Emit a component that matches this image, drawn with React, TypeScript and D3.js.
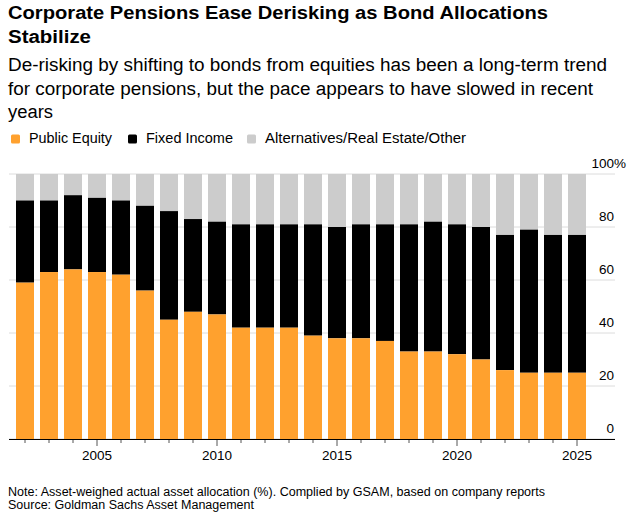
import { useMemo } from "react";
import * as d3 from "d3";

// Allocation per year, in % of total assets
const years = [2002, 2003, 2004, 2005, 2006, 2007, 2008, 2009, 2010, 2011, 2012, 2013,
    2014, 2015, 2016, 2017, 2018, 2019, 2020, 2021, 2022, 2023, 2024, 2025];
const publicEquity = [59, 63, 64, 63, 62, 56, 45, 48, 47, 42, 42, 42,
    39, 38, 38, 37, 33, 33, 32, 30, 26, 25, 25, 25];
const fixedIncome = [31, 27, 28, 28, 28, 32, 41, 35, 35, 39, 39, 39,
    42, 42, 43, 44, 48, 49, 49, 50, 51, 54, 52, 52];
const yTicks = [0, 20, 40, 60, 80, 100];
const xLabels = [2005, 2010, 2015, 2020, 2025];

const legend = [
    { label: "Public Equity", color: "#ffa12e", x: 11, w: 83 },
    { label: "Fixed Income", color: "#000000", x: 128, w: 87 },
    { label: "Alternatives/Real Estate/Other", color: "#cccccc", x: 247, w: 201 },
];

const FONT = "'Liberation Sans', Arial, Helvetica, sans-serif";
const FIT = "spacingAndGlyphs";

export default function App() {
    const x = useMemo(() => d3.scaleBand<number>().domain(years).range([13, 589]).paddingInner(0.25).paddingOuter(0.125), []);
    const y = useMemo(() => d3.scaleLinear().domain([0, 100]).range([439, 174]), []);

    const rows = years.map((yr, i) => ({
        year: yr,
        eq: publicEquity[i],
        fi: fixedIncome[i],
    }));

    return (
        <svg width={632} height={513} style={{ position: "absolute", left: 0, top: 0, background: "#fff" }} fontFamily={FONT}>
            {/* Title + subtitle (widths fitted to the original's wider face) */}
            <text x={8} y={19} fontSize={18} fontWeight="bold" fill="#000" textLength={540} lengthAdjust={FIT}>
                Corporate Pensions Ease Derisking as Bond Allocations
            </text>
            <text x={8} y={43} fontSize={18} fontWeight="bold" fill="#000" textLength={83} lengthAdjust={FIT}>Stabilize</text>
            <text x={8} y={71} fontSize={18} fill="#000" textLength={599} lengthAdjust={FIT}>
                De-risking by shifting to bonds from equities has been a long-term trend
            </text>
            <text x={8} y={95} fontSize={18} fill="#000" textLength={585} lengthAdjust={FIT}>
                for corporate pensions, but the pace appears to have slowed in recent
            </text>
            <text x={8} y={118} fontSize={18} fill="#000" textLength={45} lengthAdjust={FIT}>years</text>

            {/* Legend */}
            {legend.map(l => (
                <g key={l.label}>
                    <rect x={l.x} y={134.5} width={9} height={9} rx={1.5} fill={l.color} />
                    <text x={l.x + 18} y={142.7} fontSize={14} fill="#000" textLength={l.w} lengthAdjust={FIT}>{l.label}</text>
                </g>
            ))}

            {/* Gridlines */}
            {yTicks.map(t => (
                <line key={t} x1={9} x2={615} y1={y(t)} y2={y(t)} stroke="#dcdcdc" strokeWidth={1} />
            ))}

            {/* Stacked bars */}
            {rows.map(r => (
                <g key={r.year}>
                    <rect x={x(r.year)} width={x.bandwidth()} y={y(100)} height={y(r.eq + r.fi) - y(100)} fill="#cccccc" />
                    <rect x={x(r.year)} width={x.bandwidth()} y={y(r.eq + r.fi)} height={y(r.eq) - y(r.eq + r.fi)} fill="#000000" />
                    <rect x={x(r.year)} width={x.bandwidth()} y={y(r.eq)} height={y(0) - y(r.eq)} fill="#ffa12e" />
                </g>
            ))}

            {/* Y labels */}
            {yTicks.map(t => (
                <g key={t}>
                    <text x={614} y={y(t) - 6} fontSize={13.5} textAnchor="end" fill="#000">{t}</text>
                    {t === 100 && <text x={614} y={y(t) - 6} fontSize={13.5} fill="#000">%</text>}
                </g>
            ))}

            {/* X axis */}
            <line x1={9} x2={615} y1={y(0) + 0.5} y2={y(0) + 0.5} stroke="#000" strokeWidth={1} />
            {years.map(yr => {
                const cx = x(yr)! + x.bandwidth() / 2;
                const major = yr % 5 === 0;
                return <line key={yr} x1={cx} x2={cx} y1={y(0) + 1} y2={y(0) + (major ? 7 : 4)} stroke="#555" strokeWidth={1} />;
            })}
            {xLabels.map(yr => (
                <text key={yr} x={x(yr)! + x.bandwidth() / 2} y={459.5} fontSize={13.5} textAnchor="middle" fill="#000">{yr}</text>
            ))}

            {/* Footnotes */}
            <text x={8} y={496} fontSize={12} fill="#000" textLength={537} lengthAdjust={FIT}>
                Note: Asset-weighed actual asset allocation (%). Complied by GSAM, based on company reports
            </text>
            <text x={8} y={508.5} fontSize={12} fill="#000" textLength={246} lengthAdjust={FIT}>Source: Goldman Sachs Asset Management</text>
        </svg>
    );
}
